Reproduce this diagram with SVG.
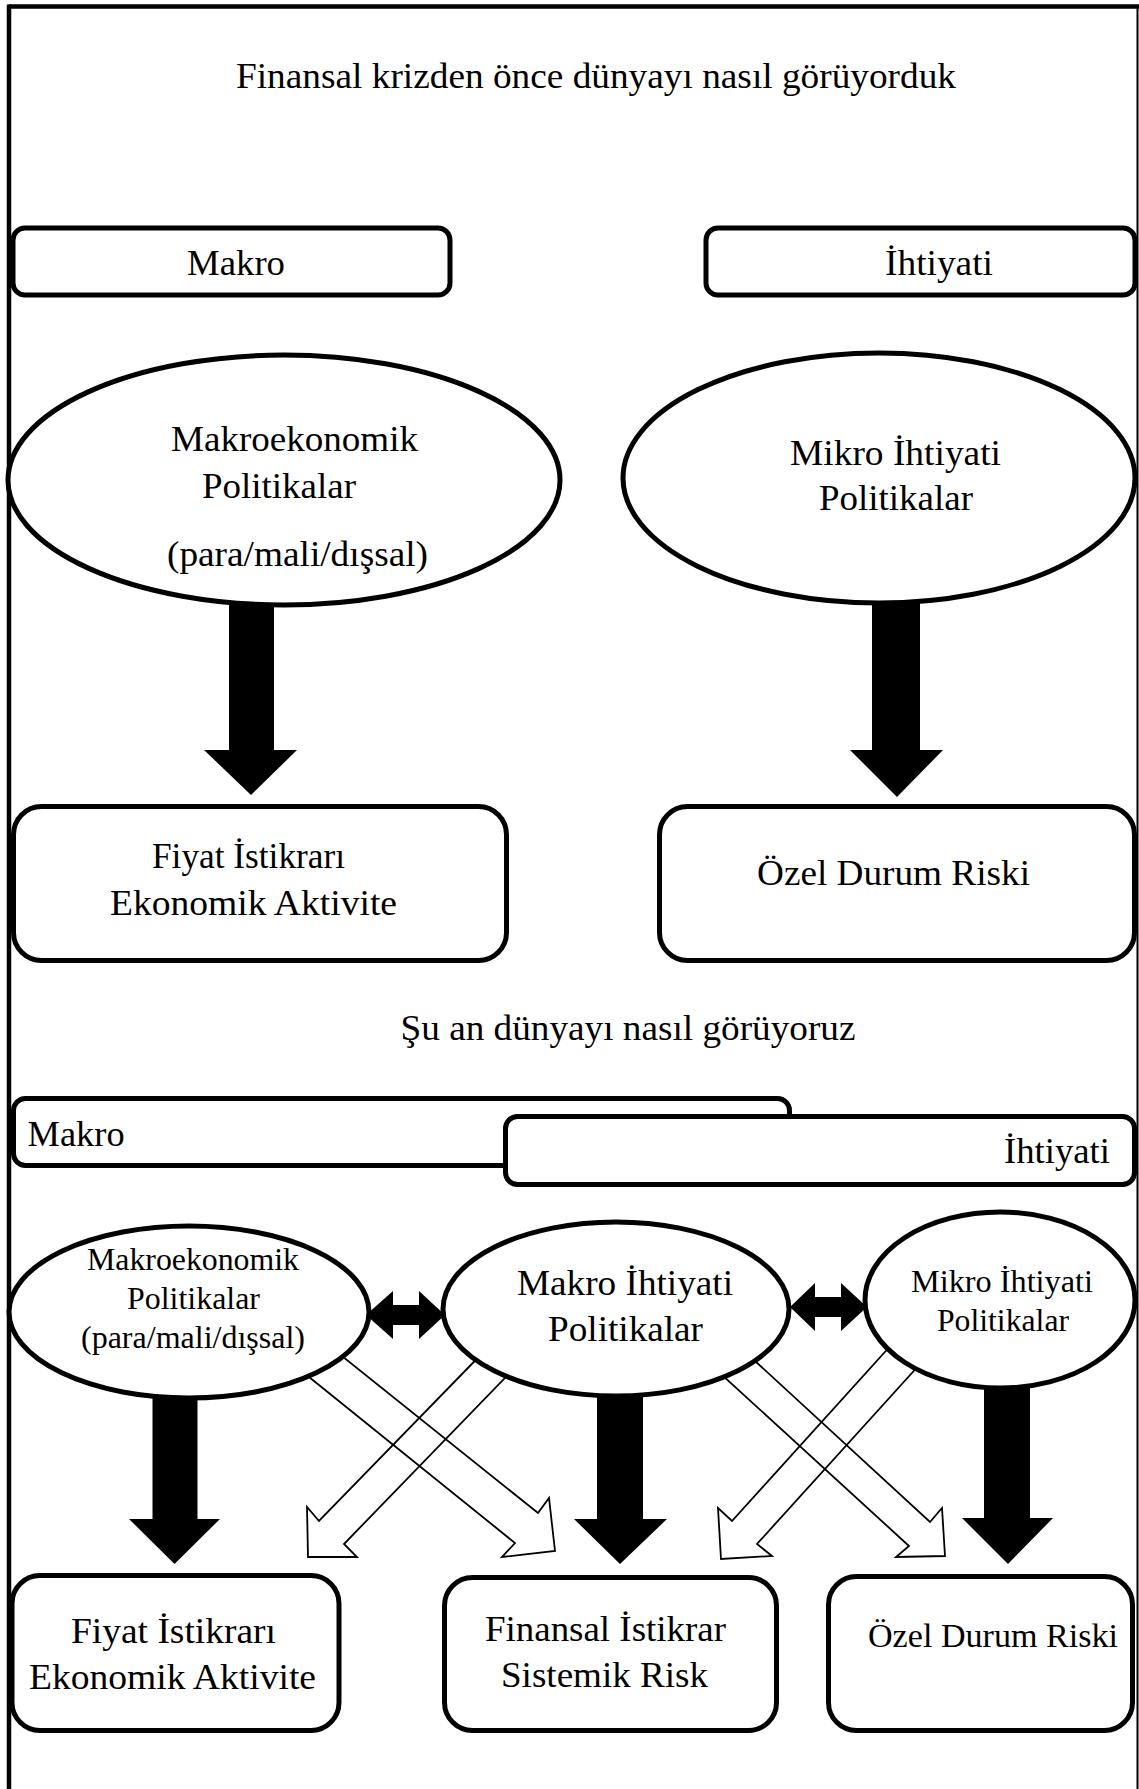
<svg xmlns="http://www.w3.org/2000/svg" width="1139" height="1789" viewBox="0 0 1139 1789">
<style>
.t{font-family:"Liberation Serif","Times New Roman",serif;fill:#000}
.b{font-size:35px}
.s{font-size:31px}
.shape{fill:#fff;stroke:#000;stroke-width:5}
.hollow{fill:none;stroke:#000;stroke-width:1.8;stroke-linejoin:miter}
.solid{fill:#000}
</style>
<rect x="0" y="0" width="1139" height="1789" fill="#fff"/>
<g id="frame" stroke="#000" fill="none">
<line x1="9" y1="6.5" x2="1139" y2="6.5" stroke-width="4.5"/>
<line x1="9" y1="4.5" x2="9" y2="1789" stroke-width="4.5"/>
<line x1="1137.5" y1="6" x2="1137.5" y2="1789" stroke-width="2"/>
</g>
<text class="t b" x="596" y="88" text-anchor="middle" textLength="720" lengthAdjust="spacingAndGlyphs">Finansal krizden önce dünyayı nasıl görüyorduk</text>
<text class="t b" x="628" y="1040" text-anchor="middle" textLength="455" lengthAdjust="spacingAndGlyphs">Şu an dünyayı nasıl görüyoruz</text>

<g id="connectors">
<polygon class="solid" points="229,595 274,595 274,750 297,750 251,795 204,750 229,750"/>
<polygon class="solid" points="872,595 920,595 920,750 943,750 897,797 850,750 872,750"/>
<polygon class="hollow" points="278,1352 515,1543 502,1557 555,1551 549,1498 538,1513 312,1332"/>
<polygon class="hollow" points="501,1334 319,1521 307,1507 308,1557 357,1557 344,1544 532,1350"/>
<polygon class="hollow" points="698,1353 909,1546 896,1557 945,1556 942,1508 930,1522 729,1337"/>
<polygon class="hollow" points="912,1322 732,1521 718,1508 721,1559 772,1556 757,1544 940,1342"/>
<polygon class="solid" points="366,1315 393,1291 393,1305 419,1305 419,1291 445,1315 419,1339 419,1325 393,1325 393,1339"/>
<polygon class="solid" points="790,1307 815,1283 815,1297 841,1297 841,1283 867,1307 841,1331 841,1317 815,1317 815,1331"/>
<polygon class="solid" points="152.5,1385 197.5,1385 197.5,1519 220,1519 174.5,1564 129,1519 152.5,1519"/>
<polygon class="solid" points="597,1385 643,1385 643,1519 667,1519 620,1564 574,1519 597,1519"/>
<polygon class="solid" points="984,1375 1030,1375 1030,1518 1053,1518 1008,1564 962,1518 984,1518"/>
</g>

<g id="makro-top">
<rect class="shape" x="13" y="228" width="437" height="67" rx="12"/>
<text class="t b" x="236" y="275" text-anchor="middle" textLength="98" lengthAdjust="spacingAndGlyphs">Makro</text>
</g>
<g id="ihtiyati-top">
<rect class="shape" x="706" y="228" width="429" height="67" rx="12"/>
<text class="t b" x="939" y="275" text-anchor="middle" textLength="108" lengthAdjust="spacingAndGlyphs">İhtiyati</text>
</g>
<g id="makroekonomik-top">
<ellipse class="shape" cx="284" cy="480" rx="276" ry="125"/>
<text class="t b" x="294.5" y="451" text-anchor="middle" textLength="247" lengthAdjust="spacingAndGlyphs">Makroekonomik</text>
<text class="t b" x="279" y="498" text-anchor="middle" textLength="154" lengthAdjust="spacingAndGlyphs">Politikalar</text>
<text class="t b" x="297.5" y="566" text-anchor="middle" textLength="261" lengthAdjust="spacingAndGlyphs">(para/mali/dışsal)</text>
</g>
<g id="mikro-top">
<ellipse class="shape" cx="879" cy="478" rx="256" ry="125"/>
<text class="t b" x="895.5" y="465" text-anchor="middle" textLength="211" lengthAdjust="spacingAndGlyphs">Mikro İhtiyati</text>
<text class="t b" x="896" y="510" text-anchor="middle" textLength="154" lengthAdjust="spacingAndGlyphs">Politikalar</text>
</g>
<g id="fiyat-top">
<rect class="shape" x="13.5" y="806.5" width="493" height="154" rx="28"/>
<text class="t b" x="248.5" y="868" text-anchor="middle" textLength="193" lengthAdjust="spacingAndGlyphs">Fiyat İstikrarı</text>
<text class="t b" x="253.5" y="915" text-anchor="middle" textLength="287" lengthAdjust="spacingAndGlyphs">Ekonomik Aktivite</text>
</g>
<g id="ozel-top">
<rect class="shape" x="659.5" y="806.5" width="475" height="154" rx="28"/>
<text class="t b" x="893.5" y="885" text-anchor="middle" textLength="273" lengthAdjust="spacingAndGlyphs">Özel Durum Riski</text>
</g>

<g id="makro-bottom">
<rect class="shape" x="13.5" y="1098.5" width="776" height="67" rx="12"/>
<text class="t b" x="27.6" y="1146" textLength="97" lengthAdjust="spacingAndGlyphs">Makro</text>
</g>
<g id="ihtiyati-bottom">
<rect class="shape" x="505.5" y="1116.5" width="629" height="68" rx="12"/>
<text class="t b" x="1004" y="1163" textLength="106" lengthAdjust="spacingAndGlyphs">İhtiyati</text>
</g>
<g id="makroekonomik-bottom">
<ellipse class="shape" cx="189" cy="1312" rx="180" ry="86"/>
<text class="t s" x="193" y="1270" text-anchor="middle" textLength="212" lengthAdjust="spacingAndGlyphs">Makroekonomik</text>
<text class="t s" x="193.5" y="1309" text-anchor="middle" textLength="133" lengthAdjust="spacingAndGlyphs">Politikalar</text>
<text class="t s" x="193" y="1348" text-anchor="middle" textLength="224" lengthAdjust="spacingAndGlyphs">(para/mali/dışsal)</text>
</g>
<g id="makro-ihtiyati">
<ellipse class="shape" cx="616" cy="1309" rx="173" ry="87"/>
<text class="t b" x="625" y="1295" text-anchor="middle" textLength="216" lengthAdjust="spacingAndGlyphs">Makro İhtiyati</text>
<text class="t b" x="625.5" y="1341" text-anchor="middle" textLength="155" lengthAdjust="spacingAndGlyphs">Politikalar</text>
</g>
<g id="mikro-ihtiyati">
<ellipse class="shape" cx="1000" cy="1300" rx="135" ry="88"/>
<text class="t s" x="1002" y="1292" text-anchor="middle" textLength="182" lengthAdjust="spacingAndGlyphs">Mikro İhtiyati</text>
<text class="t s" x="1003" y="1331" text-anchor="middle" textLength="132" lengthAdjust="spacingAndGlyphs">Politikalar</text>
</g>
<g id="fiyat-bottom">
<rect class="shape" x="12" y="1575.5" width="327" height="155" rx="28"/>
<text class="t b" x="173.5" y="1643" text-anchor="middle" textLength="205" lengthAdjust="spacingAndGlyphs">Fiyat İstikrarı</text>
<text class="t b" x="172.5" y="1689" text-anchor="middle" textLength="287" lengthAdjust="spacingAndGlyphs">Ekonomik Aktivite</text>
</g>
<g id="finansal-bottom">
<rect class="shape" x="444.5" y="1577.5" width="332" height="153" rx="28"/>
<text class="t b" x="605.5" y="1641" text-anchor="middle" textLength="241" lengthAdjust="spacingAndGlyphs">Finansal İstikrar</text>
<text class="t b" x="604.5" y="1687" text-anchor="middle" textLength="207" lengthAdjust="spacingAndGlyphs">Sistemik Risk</text>
</g>
<g id="ozel-bottom">
<rect class="shape" x="828.5" y="1576.5" width="304" height="154" rx="28"/>
<text class="t" style="font-size:33px" x="993" y="1647" text-anchor="middle" textLength="250" lengthAdjust="spacingAndGlyphs">Özel Durum Riski</text>
</g>
</svg>
